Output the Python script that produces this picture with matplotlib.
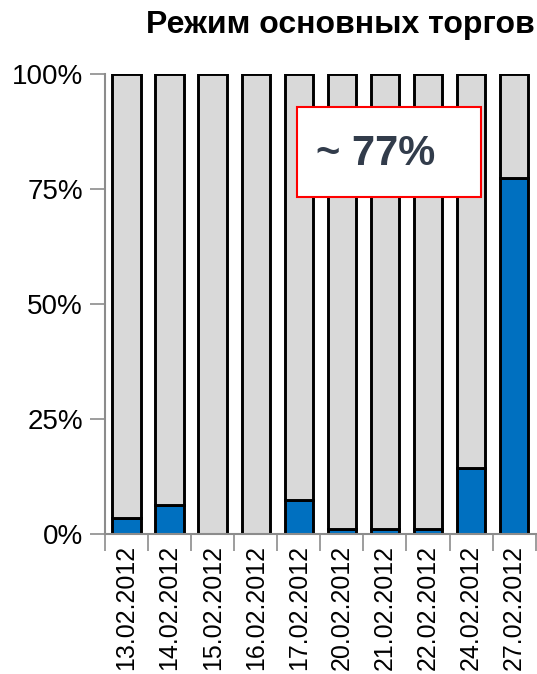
import numpy as np
import matplotlib.pyplot as plt
from matplotlib.ticker import FixedLocator, PercentFormatter
from matplotlib.patches import FancyBboxPatch

plt.rcParams['font.family'] = ['Liberation Sans', 'DejaVu Sans']

dates = ['13.02.2012', '14.02.2012', '15.02.2012', '16.02.2012', '17.02.2012',
         '20.02.2012', '21.02.2012', '22.02.2012', '24.02.2012', '27.02.2012']
main_share = [3.5, 6.3, 0, 0, 7.5, 1, 1, 1, 14.3, 77.3]
rest_share = [100 - v for v in main_share]

blue = '#0070C0'
grey = '#D9D9D9'
axis_grey = '#8C8C8C'

fig = plt.figure(figsize=(5.37, 6.74), dpi=100)
ax = fig.add_axes([0.1955, 0.2077, 0.802, 0.6825])

x = np.arange(len(dates))
ax.bar(x, main_share, width=0.66, color=blue, edgecolor='black', linewidth=2.1)
ax.bar(x, rest_share, bottom=main_share, width=0.66, color=grey,
       edgecolor='black', linewidth=2.1)

ax.set_xlim(-0.5, len(dates) - 0.5)
ax.set_ylim(0, 100)
ax.set_yticks([0, 25, 50, 75, 100])
ax.yaxis.set_major_formatter(PercentFormatter(decimals=0))
ax.tick_params(axis='y', labelsize=20, length=11, width=1.2, color=axis_grey, pad=5)

ax.set_xticks(x)
ax.set_xticklabels(dates, rotation=90, fontsize=18)
ax.xaxis.set_minor_locator(FixedLocator(np.arange(-0.5, len(dates), 1)))
ax.tick_params(axis='x', which='major', length=0, pad=8)
ax.tick_params(axis='x', which='minor', length=12, width=1.2, color=axis_grey)

for s in ['top', 'right']:
    ax.spines[s].set_visible(False)
for s in ['left', 'bottom']:
    ax.spines[s].set_color(axis_grey)
    ax.spines[s].set_linewidth(1.5)

fig.text(0.633, 0.963, 'Режим основных торгов', ha='center', va='center',
         fontsize=23, fontweight='bold')

# callout box
box = FancyBboxPatch((0.553, 0.708), 0.343, 0.133, boxstyle='square,pad=0',
                     transform=fig.transFigure, facecolor='white',
                     edgecolor='#FF0000', linewidth=1.5, zorder=5)
fig.patches.append(box)
fig.text(0.70, 0.772, '~ 77%', ha='center', va='center', fontsize=30,
         fontweight='bold', color='#323C4B', zorder=6)

fig.savefig('out.png', dpi=100)
